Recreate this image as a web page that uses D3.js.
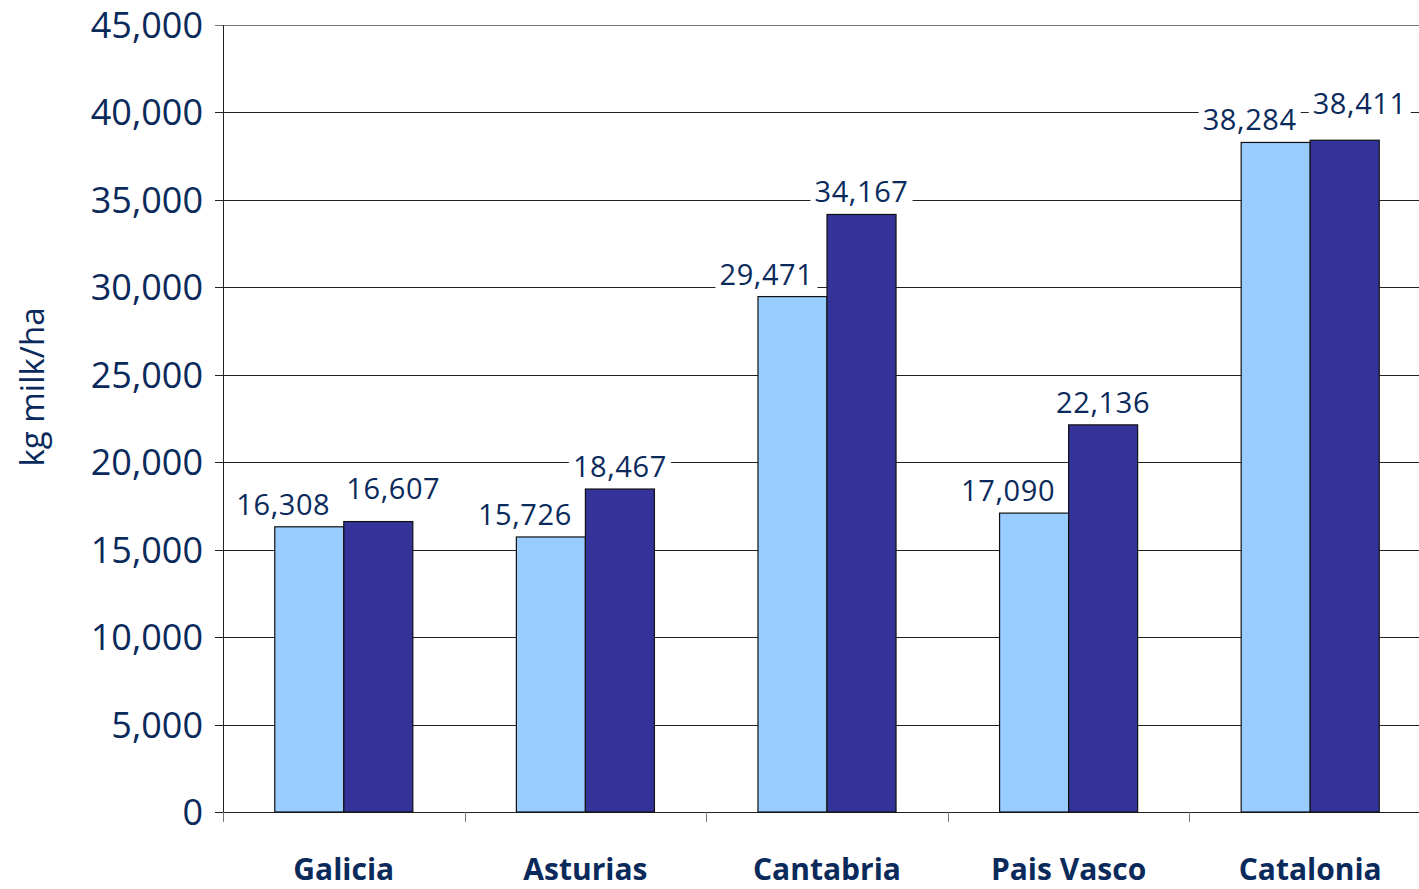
<!DOCTYPE html>
<html>
<head>
<meta charset="utf-8">
<script src="https://cdn.jsdelivr.net/npm/d3@7"></script>
<style>
  html, body { margin: 0; padding: 0; background: #fff; }
  svg { display: block; }
  text { font-family: "Open Sans", sans-serif; fill: #0b2a5c; }
</style>
</head>
<body>
<svg id="chart" width="1419" height="889"></svg>
<script>
// Milk yield per hectare by region, two periods
const regions = ["Galicia", "Asturias", "Cantabria", "Pais Vasco", "Catalonia"];
const seriesA = [16308, 15726, 29471, 17090, 38284];
const seriesB = [16607, 18467, 34167, 22136, 38411];
const yTicks = [0, 5000, 10000, 15000, 20000, 25000, 30000, 35000, 40000, 45000];
const yTitle = "kg milk/ha";

const colors = ["#99ccff", "#333399"];
const fmt = d3.format(",");

const svg = d3.select("#chart");
const W = 1419, H = 889;
const margin = { left: 223, top: 25, bottom: 812 };
const plotRight = 1431;

const x = d3.scaleBand().domain(regions).range([margin.left, plotRight]).paddingInner(0).paddingOuter(0);
const y = d3.scaleLinear().domain([0, 45000]).range([margin.bottom, margin.top]);

// group of two bars with a 150% gap
const barW = x.bandwidth() / 3.5;
const sub = d3.scaleBand().domain([0, 1]).range([x.bandwidth() / 2 - barW, x.bandwidth() / 2 + barW]);

// gridlines and y ticks
const gy = svg.append("g");
gy.selectAll("line.grid").data(yTicks).join("line")
  .attr("x1", margin.left - 8).attr("x2", W)
  .attr("y1", d => Math.round(y(d)) + 0.5).attr("y2", d => Math.round(y(d)) + 0.5)
  .attr("stroke", d => d === 45000 ? "#777" : "#222").attr("stroke-width", 1);
gy.selectAll("text").data(yTicks).join("text")
  .attr("x", 203).attr("y", d => y(d))
  .attr("dy", "0.36em")
  .attr("text-anchor", "end")
  .attr("font-size", 36)
  .text(d => fmt(d));

// y axis line
svg.append("line")
  .attr("x1", margin.left + 0.5).attr("x2", margin.left + 0.5)
  .attr("y1", margin.top).attr("y2", margin.bottom + 8)
  .attr("stroke", "#222");

// x axis category ticks
const bounds = regions.map(r => x(r)).concat([plotRight]);
svg.selectAll("line.xt").data(bounds).join("line")
  .attr("x1", d => Math.round(d) + 0.5).attr("x2", d => Math.round(d) + 0.5)
  .attr("y1", margin.bottom).attr("y2", margin.bottom + 10)
  .attr("stroke", "#777");

// bars
const rows = regions.map((r, i) => ({ region: r, vals: [seriesA[i], seriesB[i]] }));
const groups = svg.append("g").selectAll("g").data(rows).join("g")
  .attr("transform", d => `translate(${x(d.region)},0)`);
groups.selectAll("rect").data(d => d.vals.map((v, k) => ({ v, k }))).join("rect")
  .attr("x", d => sub(d.k))
  .attr("width", sub.bandwidth())
  .attr("y", d => y(d.v))
  .attr("height", d => y(0) - y(d.v))
  .attr("fill", d => colors[d.k])
  .attr("stroke", "#111")
  .attr("stroke-width", 1.2);

// value labels: light bar label sits slightly left; dark label moves right/up if they collide
const labelSize = 29;
const labelLayer = svg.append("g");
rows.forEach(row => {
  const x0 = x(row.region);
  const items = row.vals.map((v, k) => ({ v, k, cx: x0 + sub(k) + sub.bandwidth() / 2, base: y(v) - 12 }));
  items[0].cx -= 26;
  const placed = [];
  items.forEach(it => {
    const t = labelLayer.append("text")
      .attr("font-size", labelSize)
      .attr("letter-spacing", 0.6)
      .attr("text-anchor", "middle")
      .text(fmt(it.v));
    const w = t.node().getComputedTextLength();
    it.w = w;
    if (it.k === 1) {
      const a = placed[0];
      const hOverlap = (it.cx - w / 2) < (a.cx + a.w / 2 + 8);
      const vOverlap = Math.abs(it.base - a.base) < labelSize * 0.85;
      if (hOverlap && vOverlap) {
        it.cx = Math.max(it.cx, a.cx + a.w / 2 + 16 + w / 2);
        it.base = Math.min(it.base, a.base - 16);
      }
    }
    t.attr("x", it.cx).attr("y", it.base);
    placed.push(it);
    labelLayer.insert("rect", () => t.node())
      .attr("x", it.cx - w / 2 - 4).attr("y", it.base - labelSize * 0.82)
      .attr("width", w + 8).attr("height", labelSize * 1.0)
      .attr("fill", "#fff");
  });
});

// category labels
svg.selectAll("text.cat").data(regions).join("text")
  .attr("class", "cat")
  .attr("x", d => x(d) + x.bandwidth() / 2)
  .attr("y", 880)
  .attr("text-anchor", "middle")
  .attr("font-size", 30)
  .attr("font-weight", "bold")
  .text(d => d);

// y axis title
svg.append("text")
  .attr("transform", `translate(44,387) rotate(-90)`)
  .attr("text-anchor", "middle")
  .attr("font-size", 33)
  .text(yTitle);
</script>
</body>
</html>
